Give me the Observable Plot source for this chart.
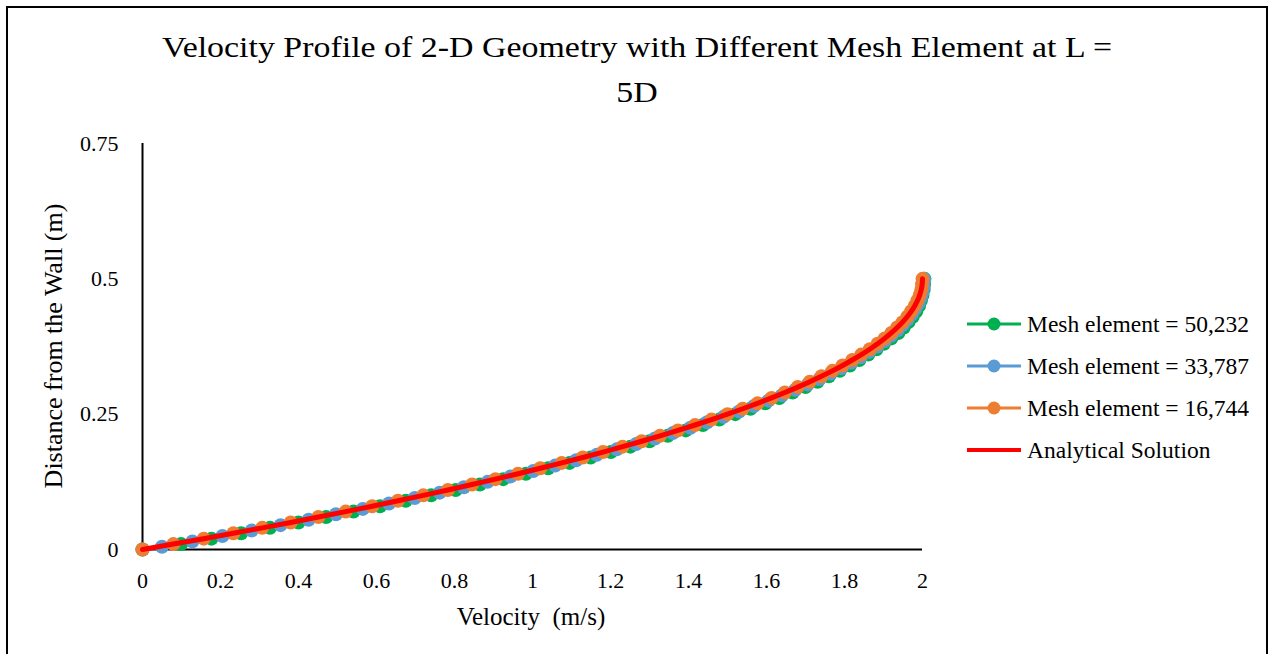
<!DOCTYPE html>
<html><head><meta charset="utf-8">
<script src="https://cdn.jsdelivr.net/npm/d3@7"></script>
<script src="https://cdn.jsdelivr.net/npm/@observablehq/plot@0.6"></script>
<style>
html,body{margin:0;padding:0;background:#fff;overflow:hidden}
#wrap{position:relative;width:1274px;height:654px;font-family:"Liberation Serif",serif}
#frame{position:absolute;left:6px;top:6px;width:1262px;height:720px;border:2px solid #000;box-sizing:border-box}
#wrap svg{position:absolute;left:0;top:0}
#wrap svg text{font-family:"Liberation Serif",serif}
</style></head><body><div id="wrap"><div id="frame"></div><div id="chart"></div></div>
<script>
const titleLines = ["Velocity Profile of 2-D Geometry with Different Mesh Element at L =", "5D"];
const xTitle = "Velocity  (m/s)";
const yTitle = "Distance from the Wall (m)";
const xTicks = [0, 0.2, 0.4, 0.6, 0.8, 1, 1.2, 1.4, 1.6, 1.8, 2];
const yTicks = [0, 0.25, 0.5, 0.75];
const seriesNames = ["Mesh element = 50,232", "Mesh element = 33,787", "Mesh element = 16,744", "Analytical Solution"];
const seriesColors = ["#00B050", "#5B9BD5", "#ED7D31", "#FF0000"];

// distance from the wall (m), shared by green, orange and analytical
const distance = [0,0.01,0.02,0.03,0.04,0.05,0.06,0.07,0.08,0.09,0.10,0.11,0.12,0.13,0.14,0.15,0.16,0.17,0.18,0.19,0.20,0.21,0.22,0.23,0.24,0.25,0.26,0.27,0.28,0.29,0.30,0.31,0.32,0.33,0.34,0.35,0.36,0.37,0.38,0.39,0.40,0.41,0.42,0.43,0.44,0.45,0.46,0.47,0.48,0.49,0.50];
// Mesh element = 50,232
const velocity50232 = [0,0.099,0.177,0.253,0.327,0.400,0.471,0.541,0.609,0.675,0.740,0.803,0.865,0.925,0.983,1.040,1.095,1.149,1.201,1.251,1.300,1.347,1.393,1.437,1.479,1.520,1.559,1.597,1.633,1.667,1.700,1.731,1.760,1.788,1.814,1.838,1.861,1.882,1.901,1.920,1.938,1.952,1.964,1.975,1.984,1.991,1.996,2.000,2.003,2.004,2.005];
// Mesh element = 33,787
const distance33787 = [0,0.005,0.015,0.025,0.035,0.045,0.055,0.065,0.075,0.085,0.095,0.105,0.115,0.125,0.135,0.145,0.155,0.165,0.175,0.185,0.195,0.205,0.215,0.225,0.235,0.245,0.255,0.265,0.275,0.285,0.295,0.305,0.315,0.325,0.335,0.345,0.355,0.365,0.375,0.385,0.395,0.405,0.415,0.425,0.435,0.445,0.455,0.465,0.475,0.485,0.495,0.50];
const velocity33787 = [0,0.050,0.128,0.205,0.280,0.354,0.426,0.496,0.565,0.632,0.698,0.762,0.824,0.885,0.944,1.002,1.058,1.112,1.165,1.216,1.266,1.314,1.360,1.405,1.448,1.490,1.530,1.568,1.605,1.640,1.674,1.706,1.736,1.765,1.792,1.817,1.841,1.863,1.884,1.903,1.920,1.936,1.950,1.962,1.973,1.982,1.990,1.996,2.000,2.003,2.004,2.004];
// Mesh element = 16,744
const velocity16744 = [0,0.079,0.157,0.233,0.307,0.380,0.451,0.521,0.589,0.655,0.720,0.783,0.845,0.905,0.963,1.020,1.075,1.129,1.181,1.231,1.280,1.327,1.373,1.417,1.459,1.500,1.539,1.577,1.613,1.647,1.680,1.711,1.741,1.769,1.795,1.820,1.843,1.865,1.885,1.903,1.920,1.935,1.949,1.961,1.971,1.980,1.987,1.993,1.997,1.999,2.000];
// Analytical solution
const velocityAnalytical = [0,0.0792,0.1568,0.2328,0.3072,0.3800,0.4512,0.5208,0.5888,0.6552,0.7200,0.7832,0.8448,0.9048,0.9632,1.0200,1.0752,1.1288,1.1808,1.2312,1.2800,1.3272,1.3728,1.4168,1.4592,1.5000,1.5392,1.5768,1.6128,1.6472,1.6800,1.7112,1.7408,1.7688,1.7952,1.8200,1.8432,1.8648,1.8848,1.9032,1.9200,1.9352,1.9488,1.9608,1.9712,1.9800,1.9872,1.9928,1.9968,1.9992,2.0000];

const toRows = (xs, ys) => xs.map((v, i) => ({v, d: ys[i]}));
const green = toRows(velocity50232, distance);
const blue = toRows(velocity33787, distance33787);
const orange = toRows(velocity16744, distance);
const red = toRows(velocityAnalytical, distance);

const font = '"Liberation Serif", serif';
const W = 1274, H = 654;
const chart = Plot.plot({
  width: W, height: H,
  marginLeft: 142, marginRight: 352, marginTop: 143, marginBottom: 105,
  style: {fontFamily: font, color: "#000", background: "transparent", overflow: "visible"},
  x: {domain: [0, 2]},
  y: {domain: [0, 0.75]},
  marks: [
    Plot.ruleX([0], {stroke: "#000", strokeWidth: 2}),
    Plot.ruleY([0], {stroke: "#000", strokeWidth: 2}),
    Plot.line(green, {x: "v", y: "d", stroke: seriesColors[0], strokeWidth: 3}),
    Plot.dot(green, {x: "v", y: "d", r: 7, fill: seriesColors[0]}),
    Plot.line(blue, {x: "v", y: "d", stroke: seriesColors[1], strokeWidth: 3}),
    Plot.dot(blue, {x: "v", y: "d", r: 7, fill: seriesColors[1]}),
    Plot.line(orange, {x: "v", y: "d", stroke: seriesColors[2], strokeWidth: 3}),
    Plot.dot(orange, {x: "v", y: "d", r: 7, fill: seriesColors[2]}),
    Plot.line(red, {x: "v", y: "d", stroke: seriesColors[3], strokeWidth: 5, curve: "catmull-rom"}),
    Plot.axisX({ticks: xTicks, tickSize: 0, tickPadding: 23, fontSize: 22, label: null, tickFormat: d => String(d)}),
    Plot.axisY({ticks: yTicks, tickSize: 0, tickPadding: 24, fontSize: 22, label: null, tickFormat: d => String(d)})
  ]
});
document.getElementById("chart").appendChild(chart);

// overlay: title, axis titles, legend
const svg = d3.select("#chart").append("svg").attr("width", W).attr("height", H).style("pointer-events", "none");
const txt = (sel) => sel.append("text").attr("font-family", "Liberation Serif, serif").attr("fill", "#000");
// title drawn at a small size and scaled up so the serif face is kept
txt(svg).attr("transform", "translate(637,57) scale(2.12,1.9)").attr("text-anchor", "middle").attr("font-size", 16).text(titleLines[0]);
txt(svg).attr("transform", "translate(637,102) scale(2.12,1.9)").attr("text-anchor", "middle").attr("font-size", 16).text(titleLines[1]);
txt(svg).attr("x", 531).attr("y", 625).attr("text-anchor", "middle").attr("font-size", 25).style("white-space", "pre").text(xTitle);
txt(svg).attr("transform", "translate(62,346) rotate(-90)").attr("text-anchor", "middle").attr("font-size", 26).text(yTitle);
const legY = [324, 366, 408, 450];
seriesNames.forEach((name, i) => {
  const g = svg.append("g").attr("transform", `translate(0,${legY[i]})`);
  g.append("line").attr("x1", 967).attr("x2", 1021).attr("stroke", seriesColors[i]).attr("stroke-width", i === 3 ? 4 : 3);
  if (i < 3) g.append("circle").attr("cx", 994).attr("r", 6.5).attr("fill", seriesColors[i]);
  txt(g).attr("x", 1027).attr("y", 8).attr("font-size", 23.5).text(name);
});
</script>
</body></html>
